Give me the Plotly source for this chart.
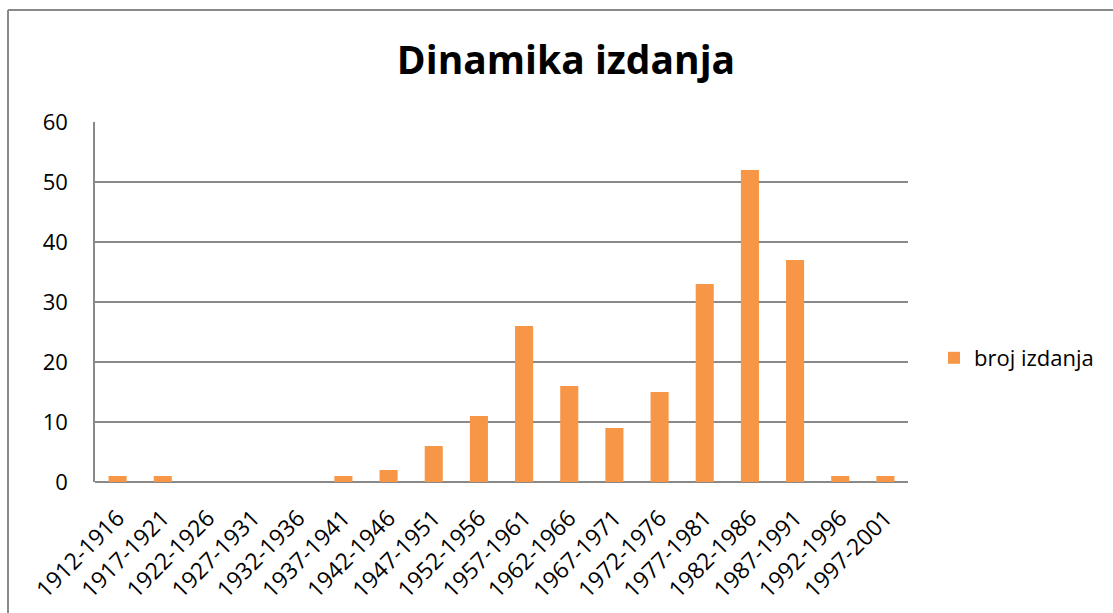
import plotly.graph_objects as go

categories = ["1912-1916", "1917-1921", "1922-1926", "1927-1931", "1932-1936",
              "1937-1941", "1942-1946", "1947-1951", "1952-1956", "1957-1961",
              "1962-1966", "1967-1971", "1972-1976", "1977-1981", "1982-1986",
              "1987-1991", "1992-1996", "1997-2001"]
values = [1, 1, 0, 0, 0, 1, 2, 6, 11, 26, 16, 9, 15, 33, 52, 37, 1, 1]
series_name = "broj izdanja"
title_text = "Dinamika izdanja"
y_ticks = [0, 10, 20, 30, 40, 50, 60]

FONT = "Open Sans"
ORANGE = "#F79646"
GRID = "#898989"

W, H = 1113, 613
L, R, T, B = 95, 205, 122, 131
pw, ph = W - L - R, H - T - B

def px_x(x):
    return (x - L) / pw

def px_y(y):
    return (H - B - y) / ph

fig = go.Figure()
fig.add_trace(go.Bar(x=categories, y=values, name=series_name,
                     marker=dict(color=ORANGE, line=dict(width=0))))

fig.update_layout(
    width=W, height=H,
    margin=dict(l=L, r=R, t=T, b=B, autoexpand=False),
    paper_bgcolor="white", plot_bgcolor="white",
    font=dict(family=FONT, color="black", size=22),
    bargap=0.6,
    showlegend=True,
    title=dict(text="<b>" + title_text + "</b>", x=566 / W, xanchor="center",
               y=1 - 60 / H, yanchor="middle",
               font=dict(family=FONT, size=39, color="black")),
    legend=dict(x=px_x(934), xanchor="left", y=px_y(358), yanchor="middle",
                font=dict(family=FONT, size=22), bgcolor="rgba(0,0,0,0)",
                itemwidth=30),
    xaxis=dict(type="category", tickangle=-45, showgrid=False, showline=False,
               ticks="", tickfont=dict(family=FONT, size=23),
               ticklabelstandoff=17),
    yaxis=dict(range=[0, 60], tickvals=y_ticks, showgrid=True, gridcolor=GRID,
               gridwidth=1.5, zeroline=True, zerolinecolor=GRID, zerolinewidth=1.5,
               showline=True, linecolor=GRID, linewidth=1.5, ticks="",
               tickfont=dict(family=FONT, size=22), ticklabelstandoff=21),
    shapes=[
        dict(type="line", xref="paper", yref="paper", x0=px_x(8), x1=px_x(1120),
             y0=px_y(10), y1=px_y(10), line=dict(color=GRID, width=2)),
        dict(type="line", xref="paper", yref="paper", x0=px_x(8), x1=px_x(8),
             y0=px_y(10), y1=px_y(620), line=dict(color=GRID, width=2)),
    ],
)

fig.write_html("out.html", config={"displayModeBar": False},
               post_script="document.body.style.margin='0';document.body.style.overflow='hidden';")
